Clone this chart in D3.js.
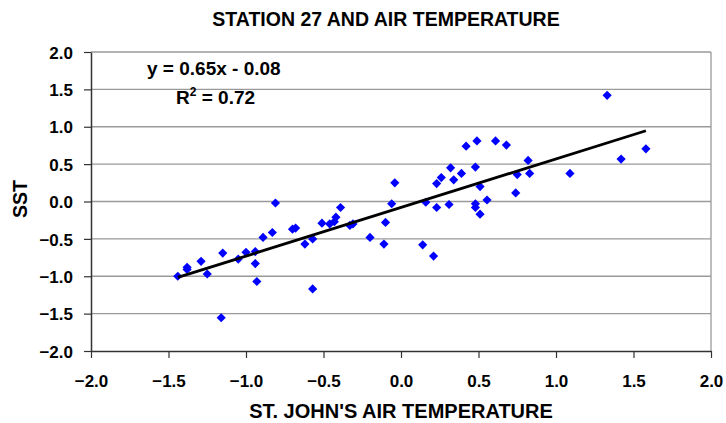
<!DOCTYPE html>
<html>
<head>
<meta charset="utf-8">
<script src="https://cdn.jsdelivr.net/npm/d3@7"></script>
<style>
  html, body { margin: 0; padding: 0; background: #fff; }
  svg { display: block; }
  text { font-family: "Liberation Sans", Arial, sans-serif; font-weight: bold; fill: #000; }
</style>
</head>
<body>
<svg id="chart" width="726" height="423"></svg>
<script>
// ---- data ----
const airTemp = [-1.44, -1.38, -1.38, -1.29, -1.25, -1.15, -1.16, -1.05, -1.00, -0.94,
  -0.94, -0.93, -0.89, -0.83, -0.81, -0.70, -0.68, -0.62, -0.57, -0.57,
  -0.51, -0.46, -0.43, -0.42, -0.39, -0.33, -0.31, -0.20, -0.11, -0.10,
  -0.06, -0.04, 0.14, 0.16, 0.21, 0.23, 0.23, 0.26, 0.31, 0.32,
  0.34, 0.39, 0.42, 0.48, 0.48, 0.48, 0.49, 0.51, 0.51, 0.555,
  0.61, 0.68, 0.74, 0.75, 0.82, 0.83, 1.09, 1.33, 1.42, 1.58];
const sst = [-1.00, -0.88, -0.91, -0.80, -0.97, -0.69, -1.555, -0.77, -0.68, -0.67,
  -0.83, -1.07, -0.48, -0.415, -0.02, -0.37, -0.355, -0.57, -0.50, -1.17,
  -0.29, -0.30, -0.27, -0.21, -0.08, -0.32, -0.30, -0.48, -0.57, -0.28,
  -0.03, 0.25, -0.58, -0.01, -0.73, -0.08, 0.24, 0.32, -0.04, 0.45,
  0.29, 0.375, 0.74, 0.46, -0.03, -0.08, 0.81, 0.20, -0.17, 0.02,
  0.81, 0.755, 0.115, 0.36, 0.55, 0.375, 0.375, 1.42, 0.567, 0.705];
const xTicks = [-2.0, -1.5, -1.0, -0.5, 0.0, 0.5, 1.0, 1.5, 2.0];
const yTicks = [-2.0, -1.5, -1.0, -0.5, 0.0, 0.5, 1.0, 1.5, 2.0];
const trendSlope = 0.65;
const trendIntercept = -0.08;
const trendRange = [-1.44, 1.58];
const titleText = "STATION 27 AND AIR TEMPERATURE";
const xTitle = "ST. JOHN'S AIR TEMPERATURE";
const yTitle = "SST";
const eqText = "y = 0.65x - 0.08";

// ---- layout ----
const svg = d3.select("#chart");
const L = 91, R = 711, T = 52, B = 351;
const x = d3.scaleLinear().domain([-2, 2]).range([L, R]);
const y = d3.scaleLinear().domain([-2, 2]).range([B, T]);
const fmt = d3.format(".1f");

// gridlines
svg.append("g").selectAll("line").data(yTicks.filter(d => d > -2)).join("line")
  .attr("x1", L).attr("x2", R)
  .attr("y1", d => y(d)).attr("y2", d => y(d))
  .attr("stroke", "#9a9a9a").attr("stroke-width", 1.3);
// right border
svg.append("line").attr("x1", R).attr("x2", R).attr("y1", T).attr("y2", B)
  .attr("stroke", "#9a9a9a").attr("stroke-width", 1.3);

// axes
const xAxis = d3.axisBottom(x).tickValues(xTicks).tickFormat(fmt).tickSize(7).tickSizeOuter(0);
const yAxis = d3.axisLeft(y).tickValues(yTicks).tickFormat(fmt).tickSize(7).tickSizeOuter(0);
const gx = svg.append("g").attr("transform", `translate(0,${B})`).call(xAxis);
const gy = svg.append("g").attr("transform", `translate(${L},0)`).call(yAxis);
[gx, gy].forEach(g => {
  g.select(".domain").attr("stroke", "#333").attr("stroke-width", 1.5);
  g.selectAll(".tick line").attr("stroke", "#333").attr("stroke-width", 1.2);
  g.selectAll(".tick text").attr("font-size", 17).attr("font-weight", "bold")
    .attr("font-family", "Liberation Sans, Arial, sans-serif").attr("fill", "#000");
});
gx.selectAll(".tick text").attr("dy", null).attr("y", 36);
gy.selectAll(".tick text").attr("x", -18).attr("dy", "0.36em");

// points (diamonds)
const pts = airTemp.map((v, i) => [v, sst[i]]);
const s = 4.6;
svg.append("g").selectAll("path").data(pts).join("path")
  .attr("d", d => {
    const cx = x(d[0]), cy = y(d[1]);
    return `M${cx},${cy - s}L${cx + s},${cy}L${cx},${cy + s}L${cx - s},${cy}Z`;
  })
  .attr("fill", "#0000ff");

// trend line
const line = d3.line().x(d => x(d)).y(d => y(trendSlope * d + trendIntercept));
svg.append("path").datum(trendRange).attr("d", line)
  .attr("fill", "none").attr("stroke", "#000").attr("stroke-width", 2.8);

// titles
svg.append("text").attr("x", 386).attr("y", 26).attr("text-anchor", "middle")
  .attr("font-size", 19.5).text(titleText);
svg.append("text").attr("x", 401).attr("y", 418).attr("text-anchor", "middle")
  .attr("font-size", 20).text(xTitle);
svg.append("text").attr("transform", "translate(27,199) rotate(-90)")
  .attr("text-anchor", "middle").attr("font-size", 19.5).text(yTitle);

// equation
svg.append("text").attr("x", 147).attr("y", 75).attr("font-size", 19).text(eqText);
const r2 = svg.append("text").attr("x", 176).attr("y", 104).attr("font-size", 19);
r2.append("tspan").text("R");
r2.append("tspan").attr("font-size", 12).attr("dy", -8).text("2");
r2.append("tspan").attr("dy", 8).text(" = 0.72");
</script>
</body>
</html>
